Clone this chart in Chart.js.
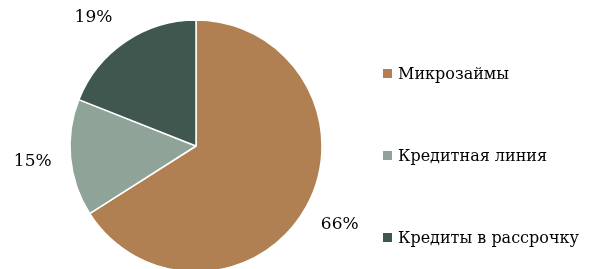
<!DOCTYPE html>
<html>
<head>
<meta charset="utf-8">
<script src="https://cdn.jsdelivr.net/npm/chart.js@4"></script>
<style>
  html, body { margin: 0; padding: 0; background: #fff; overflow: hidden; width: 591px; height: 269px; }
  #wrap { position: absolute; left: 0; top: 0; width: 392px; height: 292px; }
  #legend { position: absolute; left: 383px; top: 0; font-family: "DejaVu Serif", serif; font-size: 16px; color: #000; }
  .item { position: absolute; white-space: nowrap; display: flex; align-items: center; }
  .box { width: 9px; height: 9px; margin-right: 6px; }
</style>
</head>
<body>
<div id="wrap"><canvas id="pie"></canvas></div>
<div id="legend"></div>
<script>
// данные
const categories = ['Микрозаймы', 'Кредитная линия', 'Кредиты в рассрочку'];
const shares = [66, 15, 19];
const colors = ['#B08052', '#8FA398', '#405750'];

// подписи процентов снаружи круга
const outsideLabels = {
  id: 'outsideLabels',
  afterDatasetsDraw(chart) {
    const ctx = chart.ctx;
    const meta = chart.getDatasetMeta(0);
    ctx.save();
    ctx.font = '17px "DejaVu Serif", serif';
    ctx.fillStyle = '#000';
    ctx.textAlign = 'center';
    ctx.textBaseline = 'middle';
    meta.data.forEach((arc, i) => {
      const a = (arc.startAngle + arc.endAngle) / 2;
      const r = arc.outerRadius + 38;
      let x = arc.x + Math.cos(a) * r;
      let y = arc.y + Math.sin(a) * r;
      // не выходить за верхний край: сдвигаем по той же окружности
      if (y < 18) {
        y = 18;
        const s = (y - arc.y) / r;
        x = arc.x + Math.sign(Math.cos(a)) * Math.sqrt(1 - s * s) * r;
      }
      ctx.fillText(shares[i] + '%', x, y);
    });
    ctx.restore();
  }
};

const ctx = document.getElementById('pie').getContext('2d');
new Chart(ctx, {
  type: 'pie',
  data: {
    labels: categories,
    datasets: [{
      data: shares,
      backgroundColor: colors,
      borderColor: '#fff',
      borderWidth: 1.5
    }]
  },
  options: {
    responsive: true,
    maintainAspectRatio: false,
    animation: false,
    radius: 126,
    layout: { padding: 0 },
    plugins: {
      legend: { display: false },
      tooltip: { enabled: false }
    }
  },
  plugins: [outsideLabels]
});

// легенда справа
const legend = document.getElementById('legend');
const legendY = [73, 155, 237];
categories.forEach((name, i) => {
  const el = document.createElement('div');
  el.className = 'item';
  el.style.top = (legendY[i] - 10) + 'px';
  el.style.height = '20px';
  el.innerHTML = '<span class="box" style="background:' + colors[i] + '"></span>' + name;
  legend.appendChild(el);
});
</script>
</body>
</html>
